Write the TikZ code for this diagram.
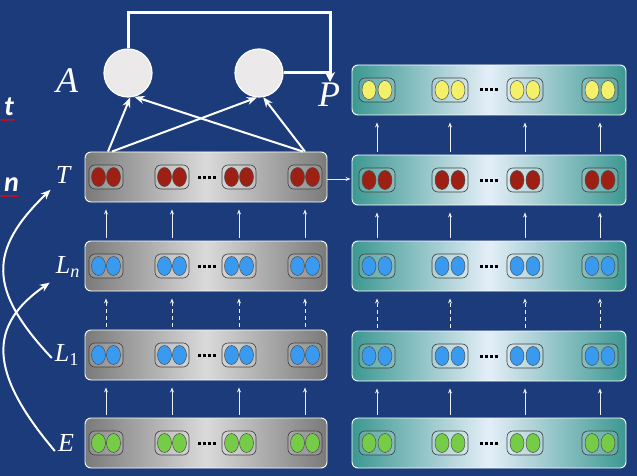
\documentclass[tikz,border=0pt]{standalone}
\usepackage{fontspec}
\setmainfont{Liberation Serif}
\newfontfamily\slidefont{Carlito}
\usetikzlibrary{arrows.meta,shapes.geometric,decorations.pathmorphing}
\definecolor{bgblue}{RGB}{27,59,122}
\definecolor{grayedge}{RGB}{122,122,122}
\definecolor{graymid}{RGB}{218,218,218}
\definecolor{tealedge}{RGB}{60,152,146}
\definecolor{tealmid}{RGB}{228,238,248}
\definecolor{tred}{RGB}{158,32,20}
\definecolor{tblue}{RGB}{58,154,240}
\definecolor{tgreen}{RGB}{118,204,70}
\definecolor{tyellow}{RGB}{244,240,106}
\definecolor{cellfill}{RGB}{235,233,234}
\tikzset{
  graybox/.style={draw=white, line width=0.9pt, rounded corners=6pt, minimum width=242pt, minimum height=50pt, left color=grayedge, right color=grayedge, middle color=graymid},
  tealbox/.style={draw=white, line width=0.9pt, rounded corners=6pt, minimum width=274pt, minimum height=50pt, left color=tealedge, right color=tealedge, middle color=tealmid},
  pill/.style={draw=black!75, line width=0.6pt, rounded corners=6pt, fill=white, fill opacity=0.15, minimum width=34pt, minimum height=24pt},
  bead/.style={ellipse, draw=black!70, line width=0.5pt, minimum width=14pt, minimum height=19pt, inner sep=0pt},
  up/.style={white!92!bgblue, line width=0.9pt, -{Stealth[length=5pt,width=4pt]}, shorten <=3pt, shorten >=7pt},
  broken/.style={dash pattern=on 4pt off 3pt},
  thick arrow/.style={white, line width=2pt, -{Stealth[length=10pt,width=8pt]}},
  cell/.style={circle, draw=white, line width=1.2pt, fill=cellfill, minimum size=48pt, inner sep=0pt},
  lab/.style={text=white, inner sep=0pt, font=\fontsize{26}{30}\selectfont\itshape},
  biglab/.style={text=white, inner sep=0pt, font=\fontsize{36}{40}\selectfont\itshape},
  cut/.style={text=white, inner sep=0pt, font=\slidefont\fontsize{28}{32}\selectfont\bfseries\itshape}
}
\begin{document}
\begin{tikzpicture}[x=1pt, y=-1pt]
        \fill[bgblue] (0,0) rectangle (637,476);
        \useasboundingbox (0,0) rectangle (637,476);

        \foreach \r/\y/\c in {E/443/tgreen, L1/355/tblue, Ln/266/tblue, T/177/tred}{
          \node[graybox] (g\r) at (206,\y) {};
          \foreach \i/\dx in {1/-100, 2/-34, 3/33, 4/99}{
            \node[pill] (g\r-\i) at (206+\dx,\y) {};
            \node[bead, fill=\c] (g\r-\i a) at ([xshift=-7.5pt]g\r-\i.center) {};
            \node[bead, fill=\c] (g\r-\i b) at ([xshift=7.5pt]g\r-\i.center) {};
          }
          \foreach \k in {-7,-2,3,8} \fill (206+\k-1.5,\y-1.5) rectangle ++(3,3);
        }
        \foreach \r/\y/\c in {E/443/tgreen, L1/356/tblue, Ln/266/tblue, T/180/tred, P/90/tyellow}{
          \node[tealbox] (t\r) at (489,\y) {};
          \foreach \i/\dx in {1/-112, 2/-39, 3/36, 4/111}{
            \node[pill, minimum width=36pt] (t\r-\i) at (489+\dx,\y) {};
            \node[bead, fill=\c] (t\r-\i a) at ([xshift=-8pt]t\r-\i.center) {};
            \node[bead, fill=\c] (t\r-\i b) at ([xshift=8pt]t\r-\i.center) {};
          }
          \foreach \k in {-8,-3,2,7} \fill (489+\k-1.5,\y-1.5) rectangle ++(3,3);
        }

        \foreach \a/\b/\s in {E/L1/solid, L1/Ln/broken, Ln/T/solid}
          \foreach \i in {1,...,4}{
            \draw[up, \s] (g\a-\i |- g\a.north) -- (g\a-\i |- g\b.south);
            \draw[up, \s] (t\a-\i |- t\a.north) -- (t\a-\i |- t\b.south);
          }
        \foreach \i in {1,...,4}
          \draw[up] (tT-\i |- tT.north) -- (tT-\i |- tP.south);
        \draw[up, shorten <=0pt, shorten >=1pt] ([yshift=-2pt]gT.east) -- ([yshift=-2pt]gT.east -| tT.west);

        \node[cell] (cA) at (128,73) {};
        \node[cell] (cB) at (259,73) {};
        \draw[thick arrow] ([xshift=2pt]gT-1 |- gT.north) -- (cA.-85);
        \draw[thick arrow] ([xshift=6pt]gT-1 |- gT.north) -- (cB.-95);
        \draw[thick arrow] ([xshift=-2pt]gT-4 |- gT.north) -- (cA.-75);
        \draw[thick arrow] ([xshift=0pt]gT-4 |- gT.north) -- (cB.-80);

        \coordinate (corner) at (330,13);
        \coordinate (pin) at (330,82);
        \draw[thick arrow, line width=3pt, -{Stealth[length=10pt,width=10pt]}] (cA.north) |- (corner) -- (pin);
        \draw[white, line width=3pt] (cB.east) -- (cB.east -| pin);

        \node[biglab] (A) at (67,81) {A};
        \node[biglab] (P) at (329,95) {P};
        \node[lab] (lT) at (63,175) {T};
        \node[lab] (lLn) at (68,267) {L\textsubscript{\itshape n}};
        \node[lab] (lL1) at (67,355) {L\textsubscript{\upshape 1}};
        \node[lab] (lE) at (66,443) {E};

        \draw[thick arrow] ([shift={(-3pt,-3pt)}]lL1.west) .. controls (-12,290) and (-12,250) .. ([shift={(-5pt,-6pt)}]lT.south west);
        \draw[thick arrow] ([shift={(-3pt,-8pt)}]lE.west) .. controls (-12,372) and (-12,325) .. ([shift={(-6pt,-5pt)}]lLn.south west);

        \node[cut, anchor=base west] (wt) at (4,116) {t};
        \node[cut, anchor=base east] (wn) at (19,191) {n};
        \draw[red, line width=0.6pt, decorate, decoration={snake, amplitude=0.7pt, segment length=2.5pt}] (0,120) -- (15,120);
        \draw[red, line width=0.6pt, decorate, decoration={snake, amplitude=0.7pt, segment length=2.5pt}] (0,196) -- (19,196);
\end{tikzpicture}
\end{document}
